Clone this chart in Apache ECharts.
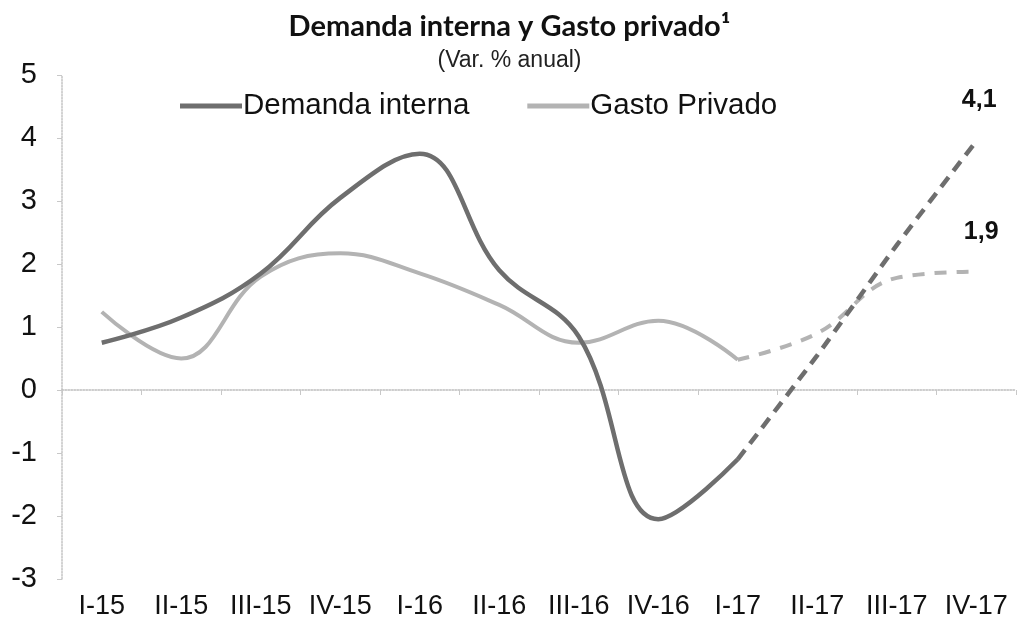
<!DOCTYPE html>
<html style="width:100%;height:100%">
<head>
    <meta charset="UTF-8">
    <title>Demanda interna y Gasto privado</title>
    <script type="text/javascript" src="https://cdn.jsdelivr.net/npm/echarts@6/dist/echarts.min.js"></script>
</head>
<body style="width:100%;height:100%;margin:0;overflow:hidden;background:#fff">
    <div id="chart" style="width:1019px;height:628px"></div>

    <script type="text/javascript">
        var myChart = echarts.init(document.getElementById('chart'));

        var quarters = ['I-15', 'II-15', 'III-15', 'IV-15', 'I-16', 'II-16', 'III-16', 'IV-16', 'I-17', 'II-17', 'III-17', 'IV-17'];
        // observed values (solid) and projection (dashed), % annual change
        var demanda = [0.75, 1.15, 1.85, 3.05, 3.75, 1.9, 0.85, -2.05, -1.1, null, null, null];
        var demandaProy = [null, null, null, null, null, null, null, null, -1.1, 0.55, 2.3, 3.95];
        var gasto = [1.24, 0.5, 1.8, 2.17, 1.85, 1.35, 0.75, 1.1, 0.48, null, null, null];
        var gastoProy = [null, null, null, null, null, null, null, null, 0.48, 0.9, 1.78, 1.88];
        var endLabels = ['4,1', '1,9'];
        var yTicks = [-3, 5, 1];

        var darkGrey = '#6e6e6e';
        var lightGrey = '#b3b3b3';
        var last = quarters.length - 1;

        function endMark(values, txt, offset) {
            return {
                symbol: 'circle',
                symbolSize: 1,
                itemStyle: { color: 'transparent' },
                label: {
                    show: true,
                    position: 'inside',
                    offset: offset,
                    formatter: txt,
                    fontFamily: 'Liberation Sans, Arial',
                    fontWeight: 'bold',
                    fontSize: 25,
                    color: '#111'
                },
                data: [{ coord: [quarters[last], values[last]] }]
            };
        }

        option = {
            animation: false,
            title: {
                text: 'Demanda interna y Gasto privado\u00b9',
                subtext: '(Var. % anual)',
                left: 'center',
                top: 7,
                itemGap: 8,
                textStyle: {
                    fontFamily: 'Lato',
                    fontWeight: 'bold',
                    fontSize: 29,
                    color: '#111'
                },
                subtextStyle: {
                    fontFamily: 'Liberation Sans, Arial',
                    fontSize: 23,
                    color: '#222'
                }
            },
            legend: {
                left: 175,
                top: 86,
                itemGap: 58,
                itemWidth: 62,
                itemHeight: 5,
                icon: 'rect',
                data: ['Demanda interna', 'Gasto Privado'],
                textStyle: {
                    fontFamily: 'Liberation Sans, Arial',
                    fontSize: 29.5,
                    color: '#111',
                    padding: [0, 0, 0, -4]
                }
            },
            grid: {
                left: 62,
                top: 75,
                width: 954,
                height: 504
            },
            xAxis: [{
                type: 'category',
                data: quarters,
                position: 'bottom',
                axisLine: { show: false, onZero: false },
                axisTick: { show: false },
                axisLabel: {
                    interval: 0,
                    margin: 14,
                    fontFamily: 'Liberation Sans, Arial',
                    fontSize: 27,
                    color: '#111'
                }
            }, {
                type: 'category',
                data: quarters,
                position: 'bottom',
                axisLine: {
                    show: true,
                    onZero: true,
                    lineStyle: { color: '#bdbdbd', type: 'dotted', width: 1.5 }
                },
                axisTick: {
                    show: true,
                    interval: 0,
                    length: 5,
                    lineStyle: { color: '#c8c8c8' }
                },
                axisLabel: { show: false }
            }],
            yAxis: {
                type: 'value',
                min: yTicks[0],
                max: yTicks[1],
                interval: yTicks[2],
                axisLine: {
                    show: true,
                    lineStyle: { color: '#c4c4c4', type: 'dotted', width: 1.5 }
                },
                axisTick: {
                    show: true,
                    length: 5,
                    lineStyle: { color: '#c8c8c8' }
                },
                splitLine: { show: false },
                axisLabel: {
                    margin: 25,
                    fontFamily: 'Liberation Sans, Arial',
                    fontSize: 29,
                    color: '#111'
                }
            },
            series: [{
                name: 'Demanda interna',
                type: 'line',
                data: demanda,
                smooth: 0.4,
                showSymbol: false,
                color: darkGrey,
                lineStyle: { width: 4.5, color: darkGrey },
                z: 3
            }, {
                name: 'Demanda interna',
                type: 'line',
                data: demandaProy,
                smooth: 0.2,
                symbol: 'none',
                color: darkGrey,
                lineStyle: { width: 4.5, color: darkGrey, type: [12, 8] },
                markPoint: endMark(demandaProy, endLabels[0], [3, -41]),
                z: 3
            }, {
                name: 'Gasto Privado',
                type: 'line',
                data: gasto,
                smooth: 0.4,
                showSymbol: false,
                color: lightGrey,
                lineStyle: { width: 4, color: lightGrey },
                z: 2
            }, {
                name: 'Gasto Privado',
                type: 'line',
                data: gastoProy,
                smooth: 0.4,
                symbol: 'none',
                color: lightGrey,
                lineStyle: { width: 4, color: lightGrey, type: [12, 10] },
                markPoint: endMark(gastoProy, endLabels[1], [5, -39]),
                z: 2
            }]
        };

        myChart.setOption(option);
    </script>
</body>
</html>
